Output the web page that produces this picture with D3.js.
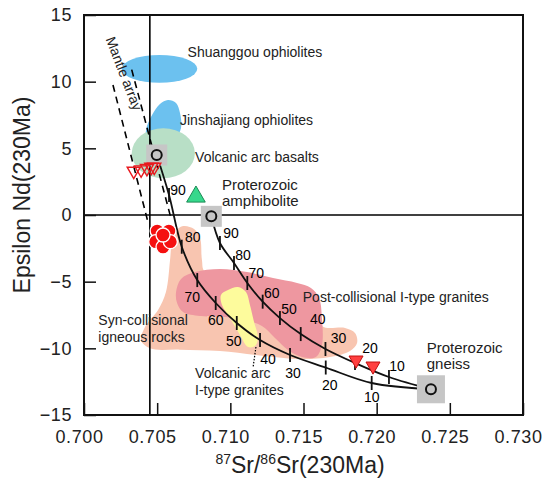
<!DOCTYPE html>
<html>
<head>
<meta charset="utf-8">
<script src="https://cdn.jsdelivr.net/npm/d3@7"></script>
<style>
body { margin: 0; background: #fff; }
svg { font-family: "Liberation Sans", Arial, sans-serif; }
</style>
</head>
<body>
<svg id="chart" width="545" height="480"></svg>
<script>
// axis ticks
var xMajor = [0.700, 0.705, 0.710, 0.715, 0.720, 0.725, 0.730],
		yMajor = [-15, -10, -5, 0, 5, 10, 15];

// bulk earth reference
var bulkSr = 0.7045,
		bulkNd = 0;

// mantle array (dashed)
var mantleLeft = [[0.70198, 9.75], [0.70437, -0.53]],
		mantleRight = [[0.70326, 10.9], [0.70594, -0.23]];

// fields  [sr, nd]
var synCollisional = [[0.70622,-1.28],[0.70677,-0.83],[0.70752,-1.05],[0.70793,-1.73],[0.70806,-3.38],[0.70827,-4.28],
		[0.71203,-5.25],[0.71579,-6.38],[0.71626,-8.33],[0.71784,-8.48],[0.71852,-8.85],[0.71866,-9.6],[0.71818,-10.2],
		[0.71681,-10.65],[0.71476,-10.8],[0.71216,-10.55],[0.70929,-10.2],[0.70656,-10.1],[0.70451,-10.0],[0.70390,-9.4],
		[0.70417,-8.4],[0.70506,-7.13],[0.70560,-5.78],[0.70588,-3.38],[0.70601,-1.88]];
var postCollisional = [[0.70629,-5.78],[0.70663,-4.8],[0.70759,-4.28],[0.70929,-4.05],[0.71114,-4.28],[0.71292,-4.73],
		[0.71456,-5.1],[0.71551,-5.48],[0.71606,-6.23],[0.71626,-7.73],[0.71626,-9.75],[0.71585,-10.65],[0.71490,-10.65],
		[0.71394,-10.13],[0.71305,-9.23],[0.71216,-8.33],[0.71100,-7.88],[0.70964,-7.65],[0.70793,-7.58],[0.70677,-7.28],
		[0.70636,-6.6]];
var arcGranites = [[0.70984,-5.63],[0.71052,-5.4],[0.71107,-5.78],[0.71134,-6.75],[0.71162,-8.03],[0.71189,-9.23],
		[0.71169,-9.83],[0.71121,-9.9],[0.71066,-9.0],[0.70998,-7.73],[0.70943,-6.75],[0.70936,-6.0]];
var jinshajiang = [[0.70574,8.63],[0.70629,8.4],[0.70656,7.65],[0.70663,6.53],[0.70629,5.85],[0.70519,5.48],
		[0.70431,5.63],[0.70424,6.38],[0.70465,7.5],[0.70519,8.33]];
// ellipses [cx, cy, rx, ry]
var shuanggou = [0.70516, 10.96, 0.00258, 1.04],
		arcBasalts = [0.70542, 4.63, 0.00216, 1.875];

// end members
var endMembers = [[0.70497, 4.5], [0.7087, -0.1], [0.72371, -13.07]];

// mixing curves, 90 .. 10 %
var mixPct = [90, 80, 70, 60, 50, 40, 30, 20, 10];
var mixA = [[0.70581,1.5],[0.70668,-2.38],[0.70774,-4.88],[0.70900,-6.6],[0.71044,-8.1],
		[0.71203,-9.38],[0.71408,-10.5],[0.71652,-11.44],[0.71966,-12.6]];
var mixB = [[0.70929,-2.1],[0.71025,-3.6],[0.71116,-5.1],[0.71221,-6.5],[0.71339,-7.73],
		[0.71481,-8.93],[0.71650,-10.05],[0.71852,-11.1],[0.72084,-12.15]];

// samples
var openTriangles = [[0.7034,3.3],[0.7039,3.4],[0.7043,3.5],[0.7046,3.6],[0.7048,3.6]],
		redCircles = [[0.7050,-1.2],[0.7058,-1.2],[0.7049,-2.0],[0.7054,-2.4],[0.7059,-2.0],[0.7054,-1.5]],
		greenTriangles = [[0.70765,1.37]],
		redTriangles = [[0.71859,-10.88],[0.71975,-11.33]];

// label offsets in px (layout only)
var offA = [[9,-5],[11,-10],[-5,17],[0,17],[-3,18],[8,19],[3,18],[4,18],[0,14]],
		offB = [[11,-10],[9,-8],[9,-10],[9,-9],[9,-9],[17,-15],[13,-11],[15,-15],[8,-11]];

var svg = d3.select("#chart");
var margin = {top: 15, right: 22, bottom: 65, left: 84},
		width = 545 - margin.left - margin.right,
		height = 480 - margin.top - margin.bottom;

var x = d3.scaleLinear().domain([0.700, 0.730]).range([margin.left, margin.left + width]),
		y = d3.scaleLinear().domain([-15, 15]).range([margin.top + height, margin.top]);

var blob = d3.line()
		.curve(d3.curveCatmullRomClosed.alpha(0.5))
		.x(function(d) { return x(d[0]); })
		.y(function(d) { return y(d[1]); });

var line = d3.line()
		.curve(d3.curveCatmullRom.alpha(0.5))
		.x(function(d) { return x(d[0]); })
		.y(function(d) { return y(d[1]); });

var plot = svg.append("g");

plot.append("path").attr("d", blob(synCollisional)).attr("fill", "#f8c5b0");
plot.append("path").attr("d", blob(postCollisional)).attr("fill", "#ee97a0");
plot.append("path").attr("d", blob(arcGranites)).attr("fill", "#fdfb9c");

function ellipse(e, color) {
	plot.append("ellipse")
		.attr("cx", x(e[0]))
		.attr("cy", y(e[1]))
		.attr("rx", x(e[0] + e[2]) - x(e[0]))
		.attr("ry", y(e[1] - e[3]) - y(e[1]))
		.attr("fill", color);
}
ellipse(shuanggou, "#6cc1ef");
plot.append("path").attr("d", blob(jinshajiang)).attr("fill", "#6cc1ef");
ellipse(arcBasalts, "#b8dfc6");

// reference lines
plot.append("line")
		.attr("x1", x(bulkSr)).attr("x2", x(bulkSr))
		.attr("y1", y(15)).attr("y2", y(-15))
		.attr("stroke", "#000").attr("stroke-width", 1.6);
plot.append("line")
		.attr("x1", x(0.700)).attr("x2", x(0.730))
		.attr("y1", y(bulkNd)).attr("y2", y(bulkNd))
		.attr("stroke", "#000").attr("stroke-width", 1.6);

[mantleLeft, mantleRight].forEach(function(m) {
	plot.append("path")
			.attr("d", d3.line().x(function(d) { return x(d[0]); }).y(function(d) { return y(d[1]); })(m))
			.attr("fill", "none")
			.attr("stroke", "#000")
			.attr("stroke-width", 1.6)
			.attr("stroke-dasharray", "7,5");
});

// dotted leader to volcanic arc granites
plot.append("line")
		.attr("x1", x(0.71175)).attr("y1", y(-9.9))
		.attr("x2", x(0.71155)).attr("y2", y(-11.45))
		.attr("stroke", "#000").attr("stroke-width", 1.2)
		.attr("stroke-dasharray", "1.5,1.5");

// mixing curves
function mixing(start, pts, offs) {
	var all = [start].concat(pts, [endMembers[2]]);
	plot.append("path")
			.attr("d", line(all))
			.attr("fill", "none")
			.attr("stroke", "#111")
			.attr("stroke-width", 1.8);
	pts.forEach(function(p, i) {
		plot.append("line")
				.attr("x1", x(p[0])).attr("x2", x(p[0]))
				.attr("y1", y(p[1]) - 7).attr("y2", y(p[1]) + 7)
				.attr("stroke", "#111").attr("stroke-width", 1.8);
		plot.append("text")
				.attr("x", x(p[0]) + offs[i][0])
				.attr("y", y(p[1]) + offs[i][1])
				.attr("dy", "0.35em")
				.attr("text-anchor", "middle")
				.attr("font-size", 14)
				.text(mixPct[i]);
	});
}
mixing(endMembers[0], mixA, offA);
mixing(endMembers[1], mixB, offB);

// end members
endMembers.forEach(function(d, i) {
	var s = i == 2 ? 28 : 21;
	plot.append("rect")
			.attr("x", x(d[0]) - s / 2).attr("y", y(d[1]) - s / 2)
			.attr("width", s).attr("height", s)
			.attr("fill", "#c6c6c6");
	plot.append("circle")
			.attr("cx", x(d[0])).attr("cy", y(d[1])).attr("r", 5)
			.attr("fill", "none").attr("stroke", "#111").attr("stroke-width", 2);
});

// samples
var tri = d3.symbol().type(d3.symbolTriangle);
plot.selectAll(".open-tri").data(openTriangles).enter().append("path")
		.attr("d", tri.size(75)())
		.attr("transform", function(d) { return "translate(" + x(d[0]) + "," + y(d[1]) + ") rotate(180)"; })
		.attr("fill", "none").attr("stroke", "#e8191e").attr("stroke-width", 1.4);

plot.selectAll(".red-circle").data(redCircles).enter().append("circle")
		.attr("cx", function(d) { return x(d[0]); })
		.attr("cy", function(d) { return y(d[1]); })
		.attr("r", 7)
		.attr("fill", "#f51010").attr("stroke", "#fff").attr("stroke-width", 1.3);

plot.selectAll(".green-tri").data(greenTriangles).enter().append("path")
		.attr("d", tri.size(150)())
		.attr("transform", function(d) { return "translate(" + x(d[0]) + "," + y(d[1]) + ")"; })
		.attr("fill", "#36d88c").attr("stroke", "#1b8a55").attr("stroke-width", 1);

plot.selectAll(".red-tri").data(redTriangles).enter().append("path")
		.attr("d", tri.size(85)())
		.attr("transform", function(d) { return "translate(" + x(d[0]) + "," + y(d[1]) + ") rotate(180)"; })
		.attr("fill", "#ff4040").attr("stroke", "#c41010").attr("stroke-width", 1);

// annotations
var notes = [
	["Shuanggou ophiolites", 0.70708, 12.25, 14],
	["Jinshajiang ophiolites", 0.70656, 7.13, 14],
	["Volcanic arc basalts", 0.70759, 4.37, 14],
	["Proterozoic", 0.70943, 2.25, 15],
	["amphibolite", 0.70943, 1.05, 15],
	["Post-collisional I-type granites", 0.71495, -6.13, 14],
	["Proterozoic", 0.72342, -9.92, 15],
	["gneiss", 0.72342, -11.12, 15],
	["Syn-collisional", 0.70098, -7.88, 14],
	["igneous rocks", 0.70098, -9.13, 14],
	["Volcanic arc", 0.70759, -11.87, 14],
	["I-type granites", 0.70759, -13.13, 14]
];
notes.forEach(function(n) {
	plot.append("text")
			.attr("x", x(n[1])).attr("y", y(n[2]))
			.attr("dy", "0.35em")
			.attr("font-size", n[3])
			.attr("fill", "#222")
			.text(n[0]);
});
plot.append("text")
		.attr("transform", "translate(" + x(0.70274) + "," + y(10.61) + ") rotate(69)")
		.attr("text-anchor", "middle")
		.attr("dy", "0.35em")
		.attr("font-size", 14)
		.attr("fill", "#222")
		.text("Mantle array");

// axes
var gx = svg.append("g").attr("transform", "translate(0," + (margin.top + height) + ")");
gx.call(d3.axisBottom(x).tickValues(d3.range(0, 31).map(function(i) { return 0.700 + i * 0.001; }))
		.tickSize(-7).tickFormat(""));
gx.call(d3.axisBottom(x).tickValues(xMajor).tickSize(-12).tickPadding(15).tickFormat(d3.format(".3f")));
gx.selectAll(".domain").remove();

var gy = svg.append("g").attr("transform", "translate(" + margin.left + ",0)");
gy.call(d3.axisLeft(y).tickValues(d3.range(-15, 16)).tickSize(-7).tickFormat(""));
gy.call(d3.axisLeft(y).tickValues(yMajor).tickSize(-12).tickPadding(12));
gy.selectAll(".domain").remove();

svg.selectAll(".tick line").attr("stroke", "#111").attr("stroke-width", 1.5);
svg.selectAll(".tick text")
		.attr("font-family", "Liberation Sans, Arial, sans-serif")
		.attr("font-size", 18)
		.attr("letter-spacing", 0.6)
		.attr("fill", "#222");
gx.selectAll(".tick text").attr("x", -5);

svg.append("rect")
		.attr("x", margin.left).attr("y", margin.top)
		.attr("width", width).attr("height", height)
		.attr("fill", "none").attr("stroke", "#111").attr("stroke-width", 2);

// axis titles
var xt = svg.append("text")
		.attr("x", 300).attr("y", 473)
		.attr("text-anchor", "middle")
		.attr("font-size", 23)
		.attr("fill", "#222");
xt.append("tspan").attr("font-size", 14).attr("dy", -9).text("87");
xt.append("tspan").attr("dy", 9).text("Sr/");
xt.append("tspan").attr("font-size", 14).attr("dy", -9).text("86");
xt.append("tspan").attr("dy", 9).text("Sr(230Ma)");

svg.append("text")
		.attr("transform", "translate(30,195) rotate(-90)")
		.attr("text-anchor", "middle")
		.attr("font-size", 23)
		.attr("fill", "#222")
		.text("Epsilon Nd(230Ma)");
</script>
</body>
</html>
